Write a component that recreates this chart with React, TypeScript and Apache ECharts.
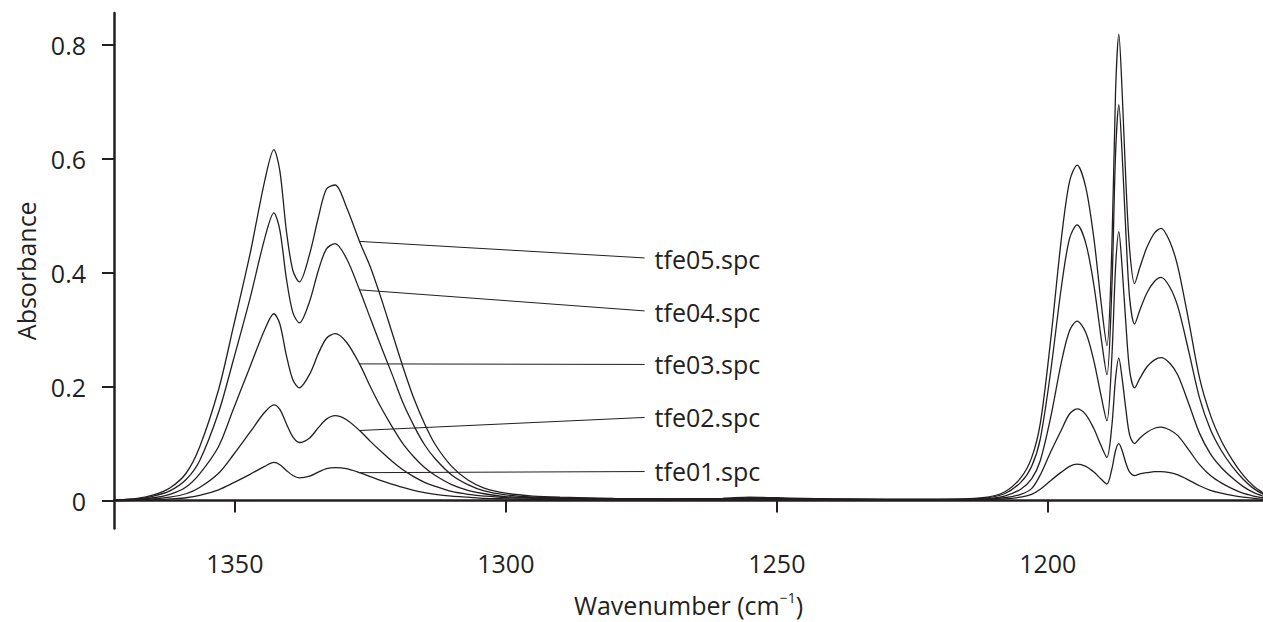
import React, { useEffect, useRef } from "react";
import * as echarts from "echarts";

// wavenumbers (cm-1), high to low
const wavenumbers = [
  1372, 1368, 1365, 1362, 1359, 1356.5, 1353, 1350.3, 1347.2, 1344.5,
  1342.8, 1341.7, 1340.5, 1339.3, 1338.1, 1336.2, 1334.6, 1333.1, 1331.5, 1329.4,
  1327, 1325, 1323, 1321, 1319, 1317, 1315, 1313, 1310, 1307,
  1304, 1300, 1295, 1290,
  1280, 1270, 1260, 1255, 1250, 1245, 1240, 1230, 1220,
  1212, 1208, 1205, 1203, 1201.4, 1199.5, 1197.5, 1196, 1194.6, 1193,
  1191.5, 1190.2, 1189.1, 1188.2, 1187.5, 1186.9, 1186.3, 1185.6, 1184.9, 1184.0,
  1183.0, 1181.7, 1180.3, 1179.1, 1177.5, 1176, 1174, 1172, 1170, 1168,
  1166, 1164, 1162, 1160,
];

const tfe05 = [
  0.001, 0.004, 0.010, 0.022, 0.048, 0.094, 0.195, 0.304, 0.433, 0.561,
  0.616, 0.579, 0.474, 0.404, 0.384, 0.433, 0.497, 0.547, 0.554, 0.515,
  0.455, 0.410, 0.355, 0.295, 0.235, 0.180, 0.135, 0.098, 0.060, 0.036,
  0.022, 0.013, 0.008, 0.006,
  0.004, 0.003, 0.004, 0.006, 0.005, 0.004, 0.003, 0.002, 0.002,
  0.005, 0.015, 0.040, 0.075, 0.135, 0.280, 0.460, 0.560, 0.589, 0.550,
  0.460, 0.350, 0.272, 0.440, 0.720, 0.819, 0.720, 0.560, 0.440, 0.381,
  0.410, 0.445, 0.470, 0.478, 0.455, 0.410, 0.315, 0.215, 0.150, 0.105,
  0.072, 0.045, 0.025, 0.012,
];

const tfe04 = [
  0.001, 0.003, 0.008, 0.017, 0.037, 0.070, 0.155, 0.246, 0.355, 0.460,
  0.505, 0.475, 0.390, 0.330, 0.312, 0.350, 0.404, 0.442, 0.451, 0.425,
  0.370, 0.320, 0.270, 0.222, 0.172, 0.132, 0.098, 0.073, 0.045, 0.028,
  0.017, 0.010, 0.006, 0.005,
  0.003, 0.003, 0.003, 0.005, 0.004, 0.003, 0.003, 0.002, 0.002,
  0.004, 0.012, 0.032, 0.060, 0.108, 0.225, 0.375, 0.460, 0.484, 0.452,
  0.378, 0.288, 0.221, 0.370, 0.610, 0.695, 0.610, 0.470, 0.355, 0.310,
  0.335, 0.365, 0.385, 0.392, 0.375, 0.340, 0.262, 0.180, 0.125, 0.088,
  0.060, 0.038, 0.021, 0.010,
];

const tfe03 = [
  0.001, 0.002, 0.005, 0.011, 0.024, 0.047, 0.095, 0.160, 0.235, 0.300,
  0.328, 0.310, 0.255, 0.212, 0.198, 0.222, 0.258, 0.285, 0.293, 0.278,
  0.240, 0.200, 0.163, 0.130, 0.100, 0.077, 0.058, 0.044, 0.028, 0.018,
  0.012, 0.007, 0.005, 0.004,
  0.003, 0.002, 0.003, 0.004, 0.003, 0.003, 0.002, 0.002, 0.002,
  0.003, 0.008, 0.020, 0.038, 0.070, 0.145, 0.243, 0.298, 0.315, 0.295,
  0.245, 0.185, 0.140, 0.250, 0.410, 0.472, 0.410, 0.310, 0.228, 0.198,
  0.215, 0.235, 0.247, 0.251, 0.241, 0.220, 0.170, 0.118, 0.082, 0.058,
  0.040, 0.025, 0.014, 0.007,
];

const tfe02 = [
  0.000, 0.001, 0.003, 0.006, 0.012, 0.023, 0.048, 0.080, 0.120, 0.155,
  0.168, 0.160, 0.135, 0.112, 0.102, 0.110, 0.128, 0.143, 0.149, 0.142,
  0.123, 0.104, 0.086, 0.069, 0.054, 0.042, 0.032, 0.025, 0.016, 0.011,
  0.008, 0.005, 0.004, 0.003,
  0.002, 0.002, 0.002, 0.003, 0.003, 0.002, 0.002, 0.001, 0.001,
  0.002, 0.005, 0.011, 0.021, 0.045, 0.085, 0.124, 0.152, 0.161, 0.151,
  0.126, 0.097, 0.076, 0.130, 0.215, 0.250, 0.215, 0.160, 0.115, 0.100,
  0.110, 0.120, 0.127, 0.129, 0.124, 0.114, 0.089, 0.063, 0.044, 0.031,
  0.021, 0.013, 0.008, 0.004,
];

const tfe01 = [
  0.000, 0.001, 0.001, 0.003, 0.005, 0.009, 0.019, 0.031, 0.046, 0.060,
  0.067, 0.063, 0.053, 0.044, 0.040, 0.043, 0.050, 0.056, 0.058, 0.056,
  0.049, 0.042, 0.035, 0.029, 0.023, 0.018, 0.014, 0.011, 0.008, 0.006,
  0.004, 0.003, 0.002, 0.002,
  0.002, 0.001, 0.002, 0.002, 0.002, 0.002, 0.001, 0.001, 0.001,
  0.002, 0.003, 0.006, 0.011, 0.020, 0.035, 0.050, 0.060, 0.064, 0.060,
  0.050, 0.038, 0.029, 0.055, 0.088, 0.100, 0.088, 0.066, 0.050, 0.044,
  0.047, 0.049, 0.051, 0.051, 0.049, 0.045, 0.036, 0.026, 0.018, 0.013,
  0.009, 0.006, 0.004, 0.002,
];

const seriesNames = ["tfe05.spc", "tfe04.spc", "tfe03.spc", "tfe02.spc", "tfe01.spc"];
const seriesValues = [tfe05, tfe04, tfe03, tfe02, tfe01];

// leader lines: [wavenumber, absorbance] on the curve -> at the label
const leaderStart = [
  [1327, 0.455], [1327, 0.37], [1327, 0.24], [1327, 0.123], [1327, 0.049],
];
const leaderEnd = [
  [1274.4, 0.426], [1274.4, 0.333], [1274.4, 0.239], [1274.4, 0.146], [1274.4, 0.051],
];

const xTicks = [1200, 1250, 1300, 1350];
const yTicks = [0, 0.2, 0.4, 0.6, 0.8];

const ink = "#231f20";
const font = "Open Sans";

const App = () => {
  const chartRef = useRef<HTMLDivElement>(null);

  useEffect(() => {
    if (!chartRef.current) return;
    const chart = echarts.init(chartRef.current, undefined, { renderer: "svg" });

    const options = {
      animation: false,
      backgroundColor: "#ffffff",
      textStyle: { fontFamily: font, color: ink },
      grid: { left: 114, right: 0, top: 13, bottom: 93, containLabel: false },
      xAxis: {
        type: "value",
        inverse: true,
        min: 1160.3,
        max: 1372.3,
        name: "Wavenumber (cm{sup|\u22121})",
        nameLocation: "middle",
        nameGap: 62,
        nameTextStyle: {
          fontFamily: font,
          fontSize: 25,
          color: ink,
          rich: {
            sup: { fontSize: 14, fontFamily: font, color: ink, padding: [0, 0, 14, 0] },
          },
        },
        axisLine: { show: true, lineStyle: { color: ink, width: 2.5 } },
        axisTick: { show: true, customValues: xTicks, length: 12, lineStyle: { color: ink, width: 2 } },
        axisLabel: {
          customValues: xTicks,
          margin: 22,
          fontSize: 25,
          color: ink,
          fontFamily: font,
          formatter: (v: number) => String(v),
        },
        splitLine: { show: false },
      },
      yAxis: {
        type: "value",
        min: -0.049,
        max: 0.856,
        name: "Absorbance",
        nameLocation: "middle",
        nameGap: 76,
        nameTextStyle: { fontFamily: font, fontSize: 25, color: ink },
        axisLine: { show: true, lineStyle: { color: ink, width: 2.5 } },
        axisTick: { show: true, customValues: yTicks, length: 12, lineStyle: { color: ink, width: 2 } },
        axisLabel: {
          customValues: yTicks,
          margin: 28,
          fontSize: 25,
          color: ink,
          fontFamily: font,
          formatter: (v: number) => (v === 0 ? "0" : v.toFixed(1)),
        },
        splitLine: { show: false },
      },
      series: seriesValues.map((vals, i) => ({
        name: seriesNames[i],
        type: "line",
        data: wavenumbers.map((w, j) => [w, vals[j]]),
        showSymbol: false,
        smooth: 0.3,
        lineStyle: { color: ink, width: 1.3 },
        markLine: {
          silent: true,
          symbol: ["none", "none"],
          lineStyle: { type: "solid", color: ink, width: 1 },
          label: {
            show: true,
            position: "end",
            distance: 10,
            formatter: seriesNames[i],
            fontSize: 25,
            fontFamily: font,
            color: ink,
          },
          data: [[{ coord: leaderStart[i] }, { coord: leaderEnd[i] }]],
        },
      })),
    };

    chart.setOption(options);

    return () => {
      chart.dispose();
    };
  }, []);

  return (
    <div
      ref={chartRef}
      style={{ position: "fixed", left: 0, top: 0, width: "1263px", height: "622px" }}
    />
  );
};

export default App;
